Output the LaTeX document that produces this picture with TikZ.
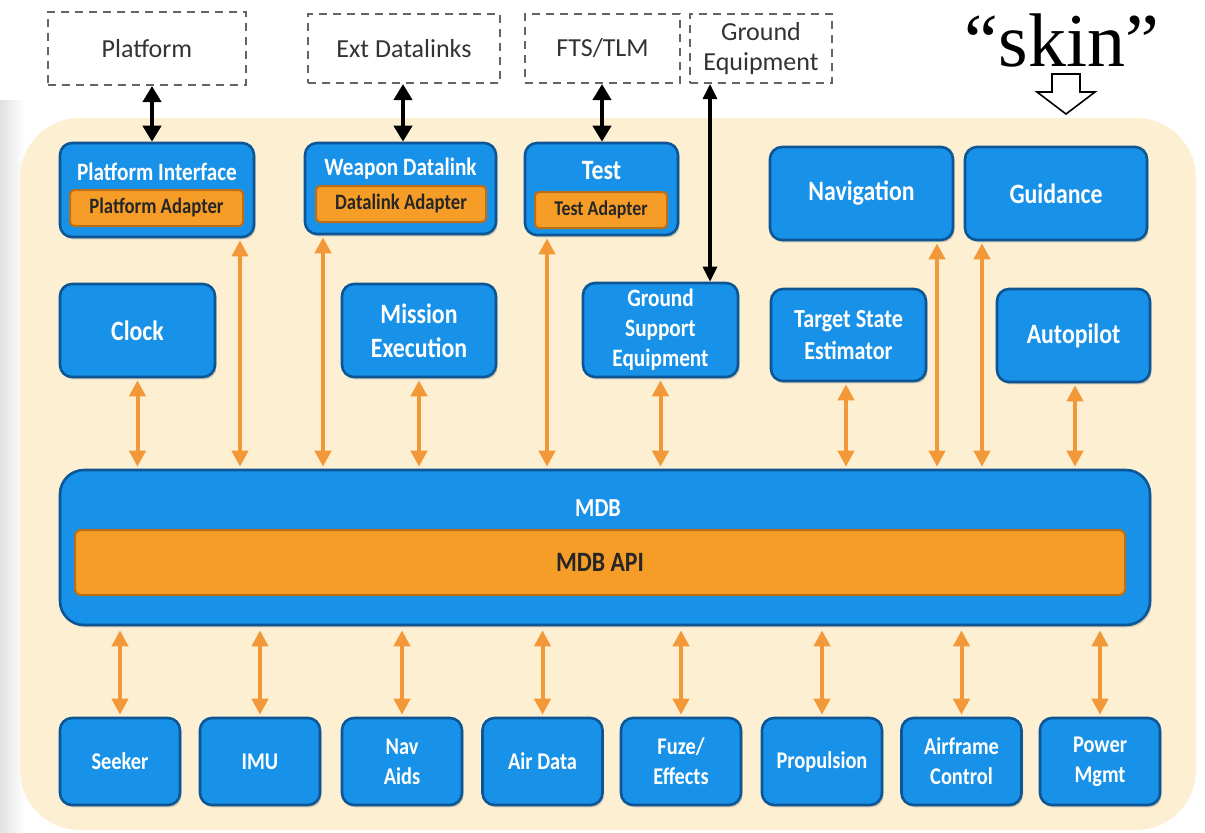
\documentclass[tikz,border=0pt]{standalone}
\usepackage{fontspec}
\setmainfont{Carlito}
\newfontfamily\boxfont[FakeStretch=0.85]{Carlito}
\newfontfamily\skinfont{Liberation Serif}
\usetikzlibrary{arrows.meta,shadows}
\definecolor{cream}{RGB}{253,239,209}
\definecolor{boxblue}{RGB}{24,146,232}
\definecolor{boxedge}{RGB}{12,86,150}
\definecolor{adporange}{RGB}{246,157,40}
\definecolor{adpedge}{RGB}{190,110,20}
\definecolor{arrorange}{RGB}{242,152,56}
\definecolor{dashgray}{RGB}{100,100,100}
\tikzset{
  extbox/.style={draw=dashgray, line width=1pt, dash pattern=on 4pt off 3pt, fill=white,
    align=center, inner sep=0pt, font=\fontsize{13}{15}\selectfont, text=black!80},
  blk/.style={rounded corners=6pt, fill=boxblue, draw=boxedge, line width=1.3pt,
    text=white, align=center, inner sep=0pt,
    drop shadow={opacity=0.35, shadow xshift=0.8pt, shadow yshift=-1.2pt},
    font=\boxfont\bfseries\fontsize{14}{17}\selectfont},
  adp/.style={rounded corners=2pt, fill=adporange, draw=adpedge, line width=1pt,
    text=black!85, align=center, inner sep=0pt,
    font=\boxfont\bfseries\fontsize{11}{13}\selectfont},
  ttl/.style={text=white, align=center, inner sep=0pt, font=\boxfont\bfseries\fontsize{12.5}{15}\selectfont},
  oarr/.style={arrorange, line width=2pt, {Triangle[width=8pt,length=8pt]}-{Triangle[width=8pt,length=8pt]}},
  barr/.style={black, line width=2.2pt, {Triangle[width=9pt,length=8pt]}-{Triangle[width=9pt,length=8pt]}},
}
\begin{document}
\begin{tikzpicture}[x=0.5pt,y=-0.5pt]
\useasboundingbox (0,0) rectangle (1205,832);
\fill[white] (0,0) rectangle (1205,832);
\shade[left color=black!12, right color=white] (0,100) rectangle (24,832);
% cream background
\fill[cream, rounded corners=30pt] (20,118) rectangle (1196,830);

% external dashed boxes
\node[extbox, minimum width=99pt, minimum height=36.5pt] (plat) at (147,48.5) {Platform};
\node[extbox, minimum width=96pt, minimum height=34.5pt] (extd) at (404,48.5) {Ext Datalinks};
\node[extbox, minimum width=77.5pt, minimum height=34.5pt] (fts) at (602.5,48.5) {FTS/TLM};
\node[extbox, minimum width=71pt, minimum height=34.5pt] (gnd) at (761,48.5) {Ground\\Equipment};

% skin
\node[inner sep=0pt, font=\skinfont\fontsize{38}{40}\selectfont] (skin) at (1062,40) {“skin”};
\draw[black, line width=0.8pt, fill=white] (1052,74) -- (1080,74) -- (1080,92) -- (1095,92) -- (1066,114) -- (1037,92) -- (1052,92) -- cycle;

% row 1
\node[blk, minimum width=97pt, minimum height=47pt] (pi) at (157,190) {};
\node[ttl] (pit) at (157,172) {Platform Interface};
\node[adp, minimum width=86.5pt, minimum height=18pt] (pia) at (156.5,208) {Platform Adapter};

\node[blk, minimum width=95.5pt, minimum height=45.5pt] (wd) at (400.5,188.5) {};
\node[ttl] (wdt) at (400.5,169) {Weapon Datalink};
\node[adp, minimum width=85pt, minimum height=18pt] (wda) at (401,204) {Datalink Adapter};

\node[blk, minimum width=76.5pt, minimum height=46pt] (test) at (601.5,189) {};
\node[ttl, font=\boxfont\bfseries\fontsize{14}{16}\selectfont] (testt) at (601.5,171) {Test};
\node[adp, minimum width=66pt, minimum height=18pt, font=\boxfont\bfseries\fontsize{10.5}{12}\selectfont] (testa) at (601,210) {Test Adapter};

\node[blk, minimum width=91.5pt, minimum height=46.5pt] (nav) at (861.5,193.5) {Navigation};
\node[blk, minimum width=91pt, minimum height=46.5pt] (gui) at (1056,193.5) {Guidance};

% row 2
\node[blk, minimum width=77.5pt, minimum height=46.5pt] (clock) at (137.5,330.5) {Clock};
\node[blk, minimum width=77pt, minimum height=46.5pt] (mission) at (419,330.5) {Mission\\Execution};
\node[blk, minimum width=77.5pt, minimum height=47pt, font=\boxfont\bfseries\fontsize{12.5}{15}\selectfont] (gse) at (660.5,330) {Ground\\Support\\Equipment};
\node[blk, minimum width=77.5pt, minimum height=46pt, font=\boxfont\bfseries\fontsize{13}{16}\selectfont] (tse) at (848.5,335) {Target State\\Estimator};
\node[blk, minimum width=76.5pt, minimum height=46.5pt] (auto) at (1073.5,335.5) {Autopilot};

% MDB
\node[blk, rounded corners=12pt, minimum width=545pt, minimum height=77.5pt] (mdb) at (605,547.5) {};
\node[ttl, font=\boxfont\bfseries\fontsize{13}{15}\selectfont] (mdbt) at (598,508) {MDB};
\node[adp, rounded corners=3pt, minimum width=525pt, minimum height=32.5pt, font=\boxfont\bfseries\fontsize{14}{16}\selectfont] (api) at (600,562.5) {MDB API};

% bottom row
\tikzset{bot/.style={blk, minimum width=60pt, minimum height=43.5pt, font=\boxfont\bfseries\fontsize{12}{15}\selectfont}}
\node[bot] (seeker) at (120,761.5) {Seeker};
\node[bot] (imu) at (260,761.5) {IMU};
\node[bot] (navaids) at (402,761.5) {Nav\\Aids};
\node[bot] (airdata) at (542.5,761.5) {Air Data};
\node[bot] (fuze) at (681,761.5) {Fuze/\\Effects};
\node[bot] (prop) at (822,761.5) {Propulsion};
\node[bot] (airframe) at (961.5,761.5) {Airframe\\Control};
\node[bot] (power) at (1100,761.5) {Power\\Mgmt};

% black arrows
\draw[barr] (plat.south -| 152,0) -- (pi.north -| 152,0);
\draw[barr] (extd.south -| 403,0) -- (wd.north -| 403,0);
\draw[barr] (fts.south -| 602,0) -- (test.north -| 602,0);
\draw[black, line width=1.6pt, {Triangle[width=7pt,length=7.5pt]}-{Triangle[width=7pt,length=7.5pt]}] (gnd.south -| 710,0) -- (gse.north -| 710,0);

% orange arrows, upper
\draw[oarr, shorten <=1pt, shorten >=1pt] (clock.south) -- (mdb.north -| clock.south);
\draw[oarr, shorten <=1pt, shorten >=1pt] (pi.south -| 240,0) -- (mdb.north -| 240,0);
\draw[oarr, shorten <=1pt, shorten >=1pt] (wd.south -| 323,0) -- (mdb.north -| 323,0);
\draw[oarr, shorten <=1pt, shorten >=1pt] (mission.south) -- (mdb.north -| mission.south);
\draw[oarr, shorten <=1pt, shorten >=1pt] (test.south -| 547,0) -- (mdb.north -| 547,0);
\draw[oarr, shorten <=1pt, shorten >=1pt] (gse.south) -- (mdb.north -| gse.south);
\draw[oarr, shorten <=1pt, shorten >=1pt] (tse.south -| 846,0) -- (mdb.north -| 846,0);
\draw[oarr, shorten <=1pt, shorten >=1pt] (nav.south -| 937,0) -- (mdb.north -| 937,0);
\draw[oarr, shorten <=1pt, shorten >=1pt] (gui.south -| 982,0) -- (mdb.north -| 982,0);
\draw[oarr, shorten <=1pt, shorten >=1pt] (auto.south -| 1075,0) -- (mdb.north -| 1075,0);

% orange arrows, lower
\foreach \b in {seeker,imu,navaids,airdata,fuze,prop,airframe,power}
  \draw[oarr, shorten <=2pt, shorten >=1pt] (mdb.south -| \b.north) -- (\b.north);
\end{tikzpicture}
\end{document}
